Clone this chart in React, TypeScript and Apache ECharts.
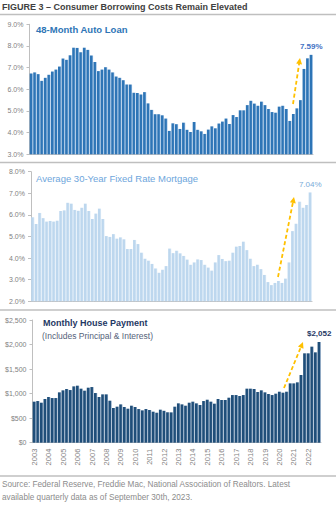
import React, { useEffect, useRef } from "react";
import * as echarts from "echarts";

const years = ["2003","2004","2005","2006","2007","2008","2009","2010","2011","2012","2013","2014","2015","2016","2017","2018","2019","2020","2021","2022"];
const quarters = ["Q1", "Q2", "Q3", "Q4"];
const categories = years.flatMap((y) => quarters.map((q) => `${y} ${q}`));

const autoLoan = [
  6.73, 6.78, 6.70, 6.39, 6.53, 6.67, 6.82, 6.91, 7.05, 7.42, 7.36, 7.57, 7.92, 7.91, 7.71, 7.92, 7.82, 7.56, 7.26, 6.84,
  6.91, 7.02, 6.91, 6.78, 6.59, 6.53, 6.42, 6.22, 6.22, 5.84, 5.83, 5.76, 5.87, 5.35, 5.05, 4.85, 4.85, 4.80, 4.65, 4.08,
  4.43, 4.39, 4.17, 4.46, 4.13, 4.03, 4.49, 4.13, 4.06, 3.94, 4.14, 4.29, 4.20, 4.42, 4.51, 4.65, 4.40, 4.81, 4.72, 5.03,
  5.03, 5.27, 5.47, 5.34, 5.24, 5.43, 5.27, 5.09, 4.95, 4.92, 5.20, 5.24, 5.09, 4.54, 4.86, 5.12, 5.50, 6.94, 7.43, 7.59,
];
const mortgage = [
  5.89, 5.58, 6.09, 5.85, 5.69, 5.72, 5.69, 5.73, 6.18, 6.21, 6.56, 6.52, 6.23, 6.19, 6.33, 6.52, 6.18, 5.81, 6.06, 6.29,
  5.81, 5.02, 4.98, 5.11, 4.90, 4.96, 4.87, 4.42, 4.42, 4.84, 4.65, 4.25, 3.97, 3.88, 3.73, 3.52, 3.32, 3.46, 3.63, 4.44,
  4.23, 4.34, 4.22, 4.10, 3.93, 3.69, 3.80, 3.94, 3.91, 3.69, 3.56, 3.42, 3.80, 4.14, 3.96, 3.86, 3.88, 4.25, 4.53, 4.56,
  4.76, 4.37, 3.97, 3.63, 3.69, 3.49, 3.22, 2.89, 2.75, 2.85, 2.94, 2.85, 3.05, 3.80, 5.25, 5.59, 6.61, 6.33, 6.46, 7.04,
];
const housePayment = [
  836, 849, 815, 890, 931, 910, 910, 1026, 1067, 1094, 1073, 1148, 1162, 1101, 1060, 1121, 1134, 1012, 931, 985,
  985, 856, 707, 734, 781, 727, 693, 754, 727, 686, 659, 686, 666, 632, 611, 673, 650, 620, 618, 734,
  802, 781, 754, 815, 836, 802, 768, 849, 876, 836, 795, 890, 870, 870, 917, 971, 971, 951, 971, 1101,
  1101, 1094, 1033, 1067, 1026, 992, 971, 999, 1039, 1019, 1039, 1209, 1209, 1230, 1379, 1821, 1821, 1957, 1841, 2052,
];

const FONT = "Liberation Sans";
const AXIS_GRAY = "#bfbfbf";
const LABEL_GRAY = "#7f7f7f";
const GOLD = "#FFC000";

function barGradient(dark: string, light: string) {
  return new echarts.graphic.LinearGradient(0, 0, 1, 0, [
    { offset: 0, color: dark },
    { offset: 0.62, color: dark },
    { offset: 1, color: light },
  ]);
}

function arrow(x1: number, y1: number, x2: number, y2: number) {
  const dx = x2 - x1, dy = y2 - y1;
  const len = Math.sqrt(dx * dx + dy * dy);
  const ux = dx / len, uy = dy / len;
  const hl = 6, hw = 3;
  const bx = x2 - ux * hl, by = y2 - uy * hl;
  return [
    {
      type: "line",
      shape: { x1, y1, x2: bx, y2: by },
      style: { stroke: GOLD, lineWidth: 1.8, lineDash: [4, 2.5] },
    },
    {
      type: "polygon",
      shape: { points: [[x2, y2], [bx - uy * hw, by + ux * hw], [bx + uy * hw, by - ux * hw]] },
      style: { fill: GOLD },
    },
  ];
}

function hline(y: number) {
  return {
    type: "line",
    shape: { x1: 0, y1: y, x2: 336, y2: y },
    style: { stroke: AXIS_GRAY, lineWidth: 1.5 },
  };
}

function withLastLabel(values: number[], formatter: (v: number) => string, color: string, bold: boolean) {
  return values.map((v, i) =>
    i === values.length - 1
      ? {
          value: v,
          label: {
            show: true,
            position: "top",
            distance: 4,
            formatter: () => formatter(v),
            color,
            fontSize: 8,
            fontWeight: bold ? "bold" : "normal",
            fontFamily: FONT,
          },
        }
      : v
  );
}

export default function App() {
  const ref = useRef<HTMLDivElement>(null);

  useEffect(() => {
    if (!ref.current) return;
    const chart = echarts.init(ref.current, undefined, { renderer: "svg" });

    const yAxisBase = {
      axisLine: { show: true, lineStyle: { color: AXIS_GRAY } },
      axisTick: { show: true, length: 3, lineStyle: { color: AXIS_GRAY } },
      splitLine: { show: false },
      axisLabel: { color: LABEL_GRAY, fontSize: 7, fontFamily: FONT, margin: 6 },
    };
    const xAxisBase = {
      type: "category",
      data: categories,
      axisLine: { show: true, lineStyle: { color: AXIS_GRAY } },
      axisTick: { show: false },
    };

    chart.setOption({
      animation: false,
      grid: [
        { left: 29.5, right: 336 - 313, top: 24.3, height: 130 },
        { left: 31, right: 336 - 312, top: 171.7, height: 129.6 },
        { left: 32.5, right: 336 - 321, top: 320, height: 122.7 },
      ],
      xAxis: [
        { ...xAxisBase, gridIndex: 0, axisLabel: { show: false } },
        { ...xAxisBase, gridIndex: 1, axisLabel: { show: false } },
        {
          ...xAxisBase,
          gridIndex: 2,
          axisLabel: {
            show: true,
            rotate: 90,
            interval: 0,
            margin: 6,
            fontSize: 7.5,
            color: LABEL_GRAY,
            fontFamily: FONT,
            formatter: (v: string) => (v.endsWith("Q1") ? v.slice(0, 4) : ""),
          },
        },
      ],
      yAxis: [
        { ...yAxisBase, type: "value", gridIndex: 0, min: 3, max: 9, interval: 1,
          axisLabel: { ...yAxisBase.axisLabel, formatter: (v: number) => v.toFixed(1) + "%" } },
        { ...yAxisBase, type: "value", gridIndex: 1, min: 2, max: 8, interval: 1,
          axisLabel: { ...yAxisBase.axisLabel, formatter: (v: number) => v.toFixed(1) + "%" } },
        { ...yAxisBase, type: "value", gridIndex: 2, min: 0, max: 2500, interval: 500,
          axisLabel: { ...yAxisBase.axisLabel, formatter: (v: number) => "$" + v.toLocaleString("en-US") } },
      ],
      series: [
        {
          type: "bar", xAxisIndex: 0, yAxisIndex: 0, barCategoryGap: "10%",
          data: withLastLabel(autoLoan, (v) => v.toFixed(2) + "%", "#4472c4", true),
          itemStyle: { color: barGradient("#2e75b6", "#a9c8ea") },
        },
        {
          type: "bar", xAxisIndex: 1, yAxisIndex: 1, barCategoryGap: "10%",
          data: withLastLabel(mortgage, (v) => v.toFixed(2) + "%", "#7aaad8", false),
          itemStyle: { color: barGradient("#bdd7ee", "#e2eef9") },
        },
        {
          type: "bar", xAxisIndex: 2, yAxisIndex: 2, barCategoryGap: "10%",
          data: withLastLabel(housePayment, (v) => "$" + v.toLocaleString("en-US"), "#1f3864", true),
          itemStyle: { color: barGradient("#1f4e79", "#98b0cc") },
        },
      ],
      graphic: [
        {
          type: "text", left: 2, top: 2,
          style: { text: "FIGURE 3 – Consumer Borrowing Costs Remain Elevated", fill: "#404040",
            font: `bold 9px "${FONT}"` },
        },
        hline(14.5),
        hline(162.5),
        hline(310),
        hline(476),
        {
          type: "text", x: 36, y: 29,
          style: { text: "48-Month Auto Loan", fill: "#2e75b6", font: `bold 9.5px "${FONT}"`, verticalAlign: "middle" },
        },
        {
          type: "text", x: 36, y: 178,
          style: { text: "Average 30-Year Fixed Rate Mortgage", fill: "#6ea6dc", font: `9.5px "${FONT}"`, verticalAlign: "middle" },
        },
        {
          type: "text", x: 43, y: 323,
          style: { text: "Monthly House Payment", fill: "#1f3864", font: `bold 9px "${FONT}"`, verticalAlign: "middle" },
        },
        {
          type: "text", x: 42, y: 336,
          style: { text: "(Includes Principal & Interest)", fill: "#55627a", font: `8.5px "${FONT}"`, verticalAlign: "middle" },
        },
        ...arrow(293, 104, 300, 58),
        ...arrow(278, 277, 294, 197),
        ...arrow(284, 388, 303, 342),
        {
          type: "text", x: 2, y: 484,
          style: { text: "Source: Federal Reserve, Freddie Mac, National Association of Realtors. Latest", fill: "#8c8c8c",
            font: `8.2px "${FONT}"`, verticalAlign: "middle" },
        },
        {
          type: "text", x: 2, y: 497,
          style: { text: "available quarterly data as of September 30th, 2023.", fill: "#8c8c8c",
            font: `8.2px "${FONT}"`, verticalAlign: "middle" },
        },
      ],
    });

    return () => chart.dispose();
  }, []);

  return (
    <div
      ref={ref}
      style={{ position: "fixed", left: 0, top: 0, width: 336, height: 510, background: "#ffffff" }}
    />
  );
}
